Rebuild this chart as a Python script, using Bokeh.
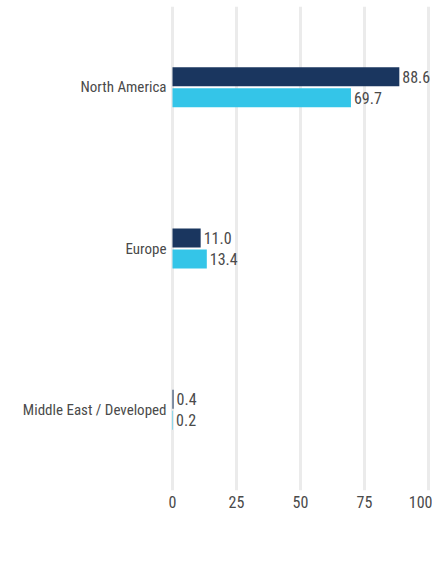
from bokeh.plotting import figure
from bokeh.models import ColumnDataSource, FactorRange, Range1d, Legend, LegendItem, FixedTicker
from bokeh.transform import dodge
from bokeh.core.properties import value
from bokeh.embed import file_html
from bokeh.resources import INLINE

regions = ["North America", "Europe", "Middle East / Developed"]
fund = [88.6, 11.0, 0.4]
benchmark = [69.7, 13.4, 0.2]
x_ticks = [0, 25, 50, 75, 100]
series_names = ["Fund", "Benchmark"]

FONT = "Roboto Condensed, DejaVu Sans Condensed, Liberation Sans Narrow, Roboto"
TXT = "#4a4a4a"
NAVY = "#1a365f"
CYAN = "#34c5e8"

src = ColumnDataSource(dict(
    region=regions,
    fund=fund,
    benchmark=benchmark,
    fund_txt=[f"{v:.1f}" for v in fund],
    bench_txt=[f"{v:.1f}" for v in benchmark],
))

# frame spans the full width; value 0 sits 172px from the left edge
p = figure(
    y_range=FactorRange(factors=regions[::-1]),
    x_range=Range1d(-67.19, 101.56),
    frame_width=432, frame_height=484,
    min_border_left=0, min_border_right=0, min_border_top=6, min_border_bottom=0,
    output_backend="svg", toolbar_location=None,
)
p.outline_line_color = None
p.yaxis.visible = False

r1 = p.hbar(y=dodge("region", 0.065, range=p.y_range), left=0, right="fund", height=0.1175,
            source=src, fill_color=NAVY, line_color=None)
r2 = p.hbar(y=dodge("region", -0.065, range=p.y_range), left=0, right="benchmark", height=0.1175,
            source=src, fill_color=CYAN, line_color=None)

# category labels (left of the zero line)
p.text(x=0, y="region", text="region", source=src,
       x_offset=-6, text_baseline="middle", text_align="right",
       text_font=value(FONT), text_font_size="15px", text_color=TXT)

# value labels
p.text(x="fund", y=dodge("region", 0.065, range=p.y_range), text="fund_txt", source=src,
       x_offset=3, text_baseline="middle", text_align="left",
       text_font=value(FONT), text_font_size="16px", text_color=TXT)
p.text(x="benchmark", y=dodge("region", -0.065, range=p.y_range), text="bench_txt", source=src,
       x_offset=3, text_baseline="middle", text_align="left",
       text_font=value(FONT), text_font_size="16px", text_color=TXT)

p.xaxis.ticker = FixedTicker(ticks=x_ticks)
p.xgrid.ticker = FixedTicker(ticks=x_ticks)
p.xgrid.grid_line_color = "#ebebeb"
p.xgrid.grid_line_width = 3
p.ygrid.grid_line_color = None

ax = p.xaxis
ax.axis_line_color = None
ax.major_tick_line_color = None
ax.minor_tick_line_color = None
ax.major_tick_out = 0
ax.major_label_text_font = FONT
ax.major_label_text_font_size = "16px"
ax.major_label_text_color = TXT
ax.major_label_standoff = 5
ax.axis_label = " "
ax.axis_label_text_font_size = "2px"
ax.axis_label_standoff = 6

legend = Legend(items=[LegendItem(label=series_names[0], renderers=[r1]),
                       LegendItem(label=series_names[1], renderers=[r2])],
                orientation="horizontal", location="bottom_left",
                glyph_width=17, glyph_height=17, label_standoff=8,
                label_width=93, spacing=0, padding=0, margin=8,
                label_text_font=FONT, label_text_font_size="16px", label_text_color=TXT,
                border_line_color=None, background_fill_alpha=0)
p.add_layout(legend, "below")

open("out.html", "w").write(file_html(p, INLINE))
